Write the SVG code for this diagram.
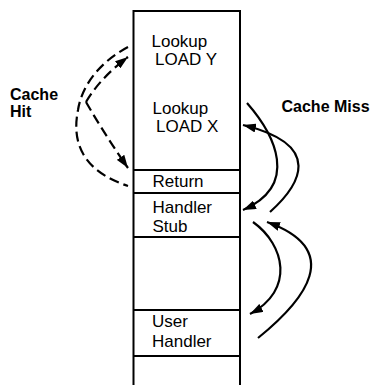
<svg xmlns="http://www.w3.org/2000/svg" width="378" height="385" viewBox="0 0 378 385">
<style>
.t{font-family:"Liberation Sans",Arial,sans-serif;font-size:17px;fill:#000}
.b{font-family:"Liberation Sans",Arial,sans-serif;font-size:16px;font-weight:bold;fill:#000}
.box{fill:none;stroke:#000;stroke-width:2}
.sep{stroke:#000;stroke-width:2}
.dash{fill:none;stroke:#000;stroke-width:2.2;stroke-dasharray:10 5}
.solid{fill:none;stroke:#000;stroke-width:2.2}
</style>
<defs>
<marker id="ah" viewBox="0 0 13 9" refX="13" refY="4.5" markerWidth="13" markerHeight="9" markerUnits="userSpaceOnUse" orient="auto">
<path d="M0,0 L13,4.5 L0,9 Z" fill="#000"/>
</marker>
</defs>
<g id="stack">
<path class="box" d="M133.5,385 V11 H240 V385"/>
</g>
<g id="lookupY"><text class="t" x="151.5" y="47">Lookup</text><text class="t" x="155" y="65">LOAD Y</text></g>
<g id="lookupX"><text class="t" x="152.5" y="114">Lookup</text><text class="t" x="156" y="131.5">LOAD X</text></g>
<g id="return"><line class="sep" x1="133.5" y1="170" x2="239" y2="170"/><text class="t" x="152.5" y="186.5">Return</text><line class="sep" x1="133.5" y1="193" x2="239" y2="193"/></g>
<g id="stub"><text class="t" x="152.5" y="212.5">Handler</text><text class="t" x="152.5" y="231.5">Stub</text><line class="sep" x1="133.5" y1="237" x2="239" y2="237"/></g>
<g id="user"><line class="sep" x1="133.5" y1="310" x2="239" y2="310"/><text class="t" x="152" y="327">User</text><text class="t" x="152" y="346.5">Handler</text><line class="sep" x1="133.5" y1="356" x2="239" y2="356"/></g>
<g id="labels"><text class="b" x="10" y="100">Cache</text><text class="b" x="10" y="117">Hit</text><text class="b" x="281.5" y="111.5">Cache Miss</text></g>
<g id="connectors">
<path class="dash" d="M128,47 C100,62 82,85 78,110 C72,140 80,170 128,186"/>
<path class="dash" d="M86,102 Q100,78 128,57" marker-end="url(#ah)"/>
<path class="dash" d="M86,102 Q105,135 128,168" marker-end="url(#ah)"/>
<path class="solid" d="M247,103 C275,135 300,185 243,210" marker-end="url(#ah)"/>
<path class="solid" d="M270,212 C300,185 325,145 243,125" marker-end="url(#ah)"/>
<path class="solid" d="M253,222 C285,245 295,290 250,314" marker-end="url(#ah)"/>
<path class="solid" d="M258,338 C305,300 345,250 267,222" marker-end="url(#ah)"/>
</g>
</svg>
